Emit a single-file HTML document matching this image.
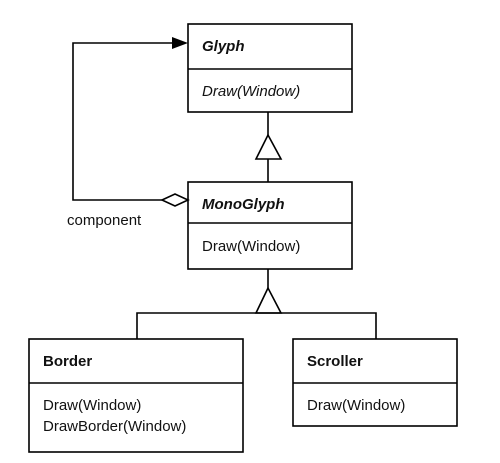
<!DOCTYPE html>
<html><head><style>
html,body{margin:0;padding:0;background:#fff;}
svg{display:block;}
text{font-family:"Liberation Sans",sans-serif;font-size:15px;fill:#111;}
</style></head><body>
<svg width="500" height="463" viewBox="0 0 500 463">
<g fill="none" stroke="#000" stroke-width="1.6">
<rect x="188" y="24" width="164" height="88"/>
<line x1="188" y1="69" x2="352" y2="69"/>
<rect x="188" y="182" width="164" height="87"/>
<line x1="188" y1="223" x2="352" y2="223"/>
<rect x="29" y="339" width="214" height="113"/>
<line x1="29" y1="383" x2="243" y2="383"/>
<rect x="293" y="339" width="164" height="87"/>
<line x1="293" y1="383" x2="457" y2="383"/>
<line x1="268" y1="112" x2="268" y2="135"/>
<polygon points="268,135 256,159 281,159"/>
<line x1="268" y1="159" x2="268" y2="182"/>
<line x1="268" y1="269" x2="268" y2="288"/>
<polygon points="268,288 256,313 281,313"/>
<polyline points="137,339 137,313 376,313 376,339"/>
<polyline points="162,200 73,200 73,43 178,43"/>
<polygon points="162,200 175,194 188,200 175,206" fill="#fff"/>
</g>
<polygon points="188,43 172,37 172,49" fill="#000"/>
<text x="202" y="51" font-weight="bold" font-style="italic">Glyph</text>
<text x="202" y="96" font-style="italic">Draw(Window)</text>
<text x="202" y="209" font-weight="bold" font-style="italic">MonoGlyph</text>
<text x="202" y="251">Draw(Window)</text>
<text x="67" y="225">component</text>
<text x="43" y="366" font-weight="bold">Border</text>
<text x="43" y="410">Draw(Window)</text>
<text x="43" y="431">DrawBorder(Window)</text>
<text x="307" y="366" font-weight="bold">Scroller</text>
<text x="307" y="410">Draw(Window)</text>
</svg>
</body></html>
